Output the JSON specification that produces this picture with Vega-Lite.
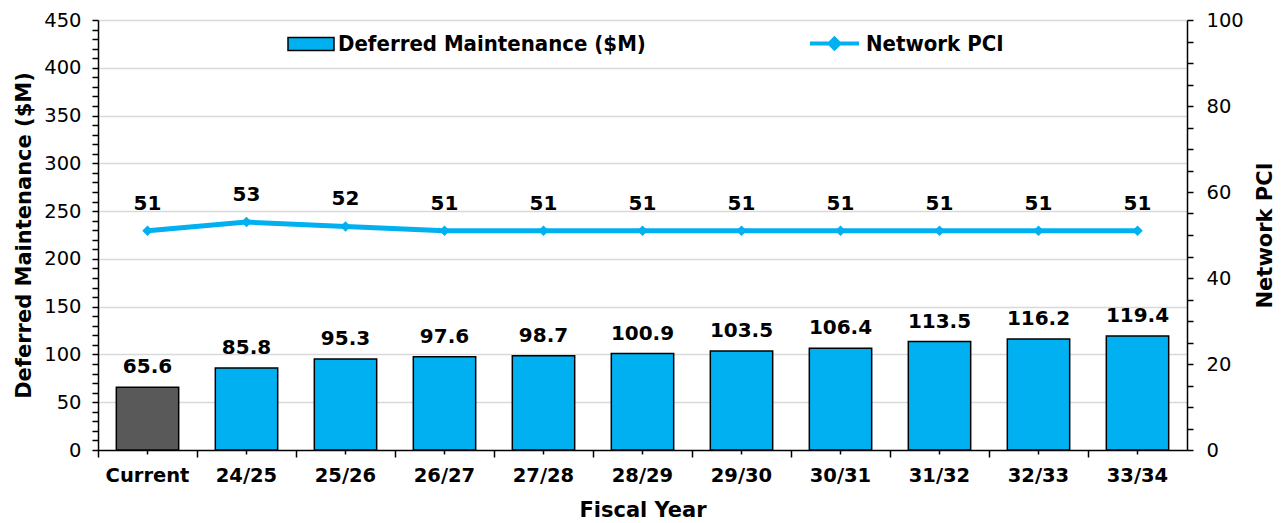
{
"$schema": "https://vega.github.io/schema/vega-lite/v6.json",
"width": 1089,
"height": 430,
"autosize": {"type": "none"},
"padding": {"left": 98, "top": 20, "right": 99, "bottom": 73},
"background": "white",
"config": {"view": {"stroke": null}, "font": "DejaVu Sans"},
"data": {"values": [
 {"year": "Current", "dm": 65.6, "pci": 51, "type": "Current", "series": "Network PCI"},
 {"year": "24/25", "dm": 85.8, "pci": 53, "type": "Deferred Maintenance ($M)", "series": "Network PCI"},
 {"year": "25/26", "dm": 95.3, "pci": 52, "type": "Deferred Maintenance ($M)", "series": "Network PCI"},
 {"year": "26/27", "dm": 97.6, "pci": 51, "type": "Deferred Maintenance ($M)", "series": "Network PCI"},
 {"year": "27/28", "dm": 98.7, "pci": 51, "type": "Deferred Maintenance ($M)", "series": "Network PCI"},
 {"year": "28/29", "dm": 100.9, "pci": 51, "type": "Deferred Maintenance ($M)", "series": "Network PCI"},
 {"year": "29/30", "dm": 103.5, "pci": 51, "type": "Deferred Maintenance ($M)", "series": "Network PCI"},
 {"year": "30/31", "dm": 106.4, "pci": 51, "type": "Deferred Maintenance ($M)", "series": "Network PCI"},
 {"year": "31/32", "dm": 113.5, "pci": 51, "type": "Deferred Maintenance ($M)", "series": "Network PCI"},
 {"year": "32/33", "dm": 116.2, "pci": 51, "type": "Deferred Maintenance ($M)", "series": "Network PCI"},
 {"year": "33/34", "dm": 119.4, "pci": 51, "type": "Deferred Maintenance ($M)", "series": "Network PCI"}
]},
"resolve": {"scale": {"y": "independent"}, "axis": {"x": "independent"}},
"layer": [
 {
  "encoding": {
   "x": {"field": "year", "type": "nominal", "sort": null,
    "scale": {"paddingInner": 0, "paddingOuter": 0},
    "axis": {"orient": "bottom", "labelAngle": 0, "labelFontWeight": "bold", "labelFontSize": 19.5, "labelColor": "black",
     "tickSize": 4, "tickColor": "black", "tickWidth": 1.5, "domainColor": "black", "domainWidth": 1.5,
     "labelPadding": 12, "title": "Fiscal Year", "titleFontSize": 21, "titleFontWeight": "bold", "titleColor": "black", "titlePadding": 15, "grid": false}},
   "y": {"field": "dm", "type": "quantitative", "scale": {"domain": [0, 450], "nice": false},
    "axis": {"orient": "left", "values": [0,10,20,30,40,50,60,70,80,90,100,110,120,130,140,150,160,170,180,190,200,210,220,230,240,250,260,270,280,290,300,310,320,330,340,350,360,370,380,390,400,410,420,430,440,450],
     "labelExpr": "datum.value % 50 === 0 ? datum.label : ''", "labelOverlap": false, "labelFontSize": 19.5, "labelColor": "black", "labelPadding": 11,
     "tickSize": 6, "tickColor": "black", "tickWidth": 1.5, "domainColor": "black", "domainWidth": 1.5,
     "grid": true, "gridColor": "#D9D9D9", "gridWidth": 1.5,
     "gridOpacity": {"condition": {"test": "datum.value % 50 === 0 && datum.value > 0", "value": 1}, "value": 0},
     "title": "Deferred Maintenance ($M)", "titleFontSize": 21, "titleFontWeight": "bold", "titleColor": "black", "titlePadding": 9}}
  },
  "layer": [
   {"mark": {"type": "bar", "width": {"band": 0.63}, "stroke": "black", "strokeWidth": 1.5},
    "encoding": {"fill": {"field": "type", "type": "nominal",
     "scale": {"domain": ["Deferred Maintenance ($M)", "Current"], "range": ["#00B0F0", "#595959"]},
     "legend": {"orient": "none", "legendX": 189, "legendY": 0, "values": ["Deferred Maintenance ($M)"], "title": null,
      "symbolType": "M-1,-0.28L1,-0.28L1,0.28L-1,0.28Z", "symbolSize": 2116, "symbolStrokeColor": "black", "symbolStrokeWidth": 1.5, "symbolOpacity": 1,
      "labelFont": "DejaVu Sans Condensed", "labelFontWeight": "bold", "labelFontSize": 22, "labelColor": "black", "labelOffset": 3, "labelLimit": 0, "padding": 0}}}},
   {"mark": {"type": "text", "fontWeight": "bold", "fontSize": 20, "color": "black", "baseline": "alphabetic", "dy": -14},
    "encoding": {"text": {"field": "dm", "type": "quantitative", "format": ".1f"}}}
  ]
 },
 {
  "encoding": {
   "x": {"field": "year", "type": "nominal", "sort": null,
    "axis": {"orient": "bottom", "bandPosition": 0, "labels": false, "title": null, "domain": false, "grid": false,
     "tickSize": 7, "tickColor": "black", "tickWidth": 1.5}},
   "y": {"field": "pci", "type": "quantitative", "scale": {"domain": [0, 100], "nice": false},
    "axis": {"orient": "right", "values": [0,5,10,15,20,25,30,35,40,45,50,55,60,65,70,75,80,85,90,95,100],
     "labelExpr": "datum.value % 20 === 0 ? datum.label : ''", "labelOverlap": false, "labelFontSize": 19.5, "labelColor": "black", "labelPadding": 13,
     "tickSize": 6, "tickColor": "black", "tickWidth": 1.5, "domainColor": "black", "domainWidth": 1.5, "grid": false,
     "title": "Network PCI", "titleAngle": 270, "titleFontSize": 21, "titleFontWeight": "bold", "titleColor": "black", "titlePadding": 32}}
  },
  "layer": [
   {"mark": {"type": "line", "strokeWidth": 5},
    "encoding": {"stroke": {"field": "series", "type": "nominal", "scale": {"range": ["#00B0F0"]},
     "legend": {"orient": "none", "legendX": 710, "legendY": -3, "title": null,
      "symbolType": "M-1,0L1,0M0,-0.2L0.2,0L0,0.2L-0.2,0Z", "symbolSize": 2401, "symbolStrokeWidth": 4, "symbolFillColor": "#00B0F0", "symbolStrokeColor": "#00B0F0",
      "labelFont": "DejaVu Sans Condensed", "labelFontWeight": "bold", "labelFontSize": 22, "labelColor": "black", "labelOffset": 5, "labelLimit": 0, "padding": 0}}}},
   {"mark": {"type": "point", "shape": "diamond", "filled": true, "size": 110, "color": "#00B0F0", "opacity": 1}},
   {"mark": {"type": "text", "fontWeight": "bold", "fontSize": 20, "color": "black", "baseline": "alphabetic", "dy": -21},
    "encoding": {"text": {"field": "pci", "type": "quantitative", "format": "d"}}}
  ]
 }
]
}
